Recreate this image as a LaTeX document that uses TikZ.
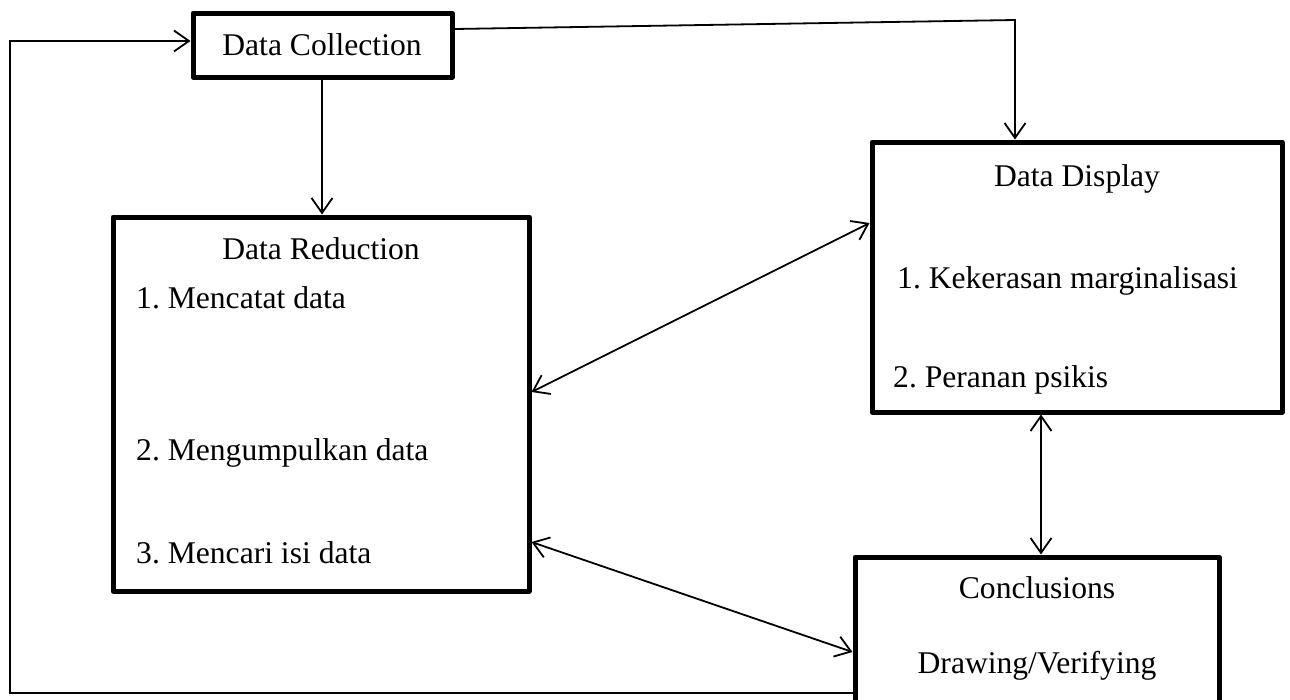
\documentclass[tikz,border=0pt]{standalone}
\usepackage{fontspec}
\setmainfont{Liberation Serif}
\usetikzlibrary{arrows.meta}
\tikzset{
  box/.style={draw=black, line width=5pt, line join=round, rectangle, inner sep=0pt},
  lbl/.style={inner sep=0pt, font=\fontsize{31.6}{38}\selectfont\frenchspacing},
  conn/.style={draw=black, line width=1.8pt},
  arr/.style={conn, -{Straight Barb[length=15pt,width=21pt,line width=1.8pt]}},
  dbl/.style={conn, {Straight Barb[length=15pt,width=21pt,line width=1.8pt]}-{Straight Barb[length=15pt,width=21pt,line width=1.8pt]}}
}
\begin{document}
\begin{tikzpicture}[x=1pt,y=-1pt]
\useasboundingbox (0,0) rectangle (1290,699);
\clip (0,0) rectangle (1290,699);
\fill[white] (0,0) rectangle (1290,699);
% boxes
\node[box, minimum width=259pt, minimum height=64pt] (dc) at (322.5,45) {};
\node[box, minimum width=416pt, minimum height=374pt] (dr) at (321,404) {};
\node[box, minimum width=410pt, minimum height=270pt] (dd) at (1077,277) {};
\node[box, minimum width=364pt, minimum height=183pt] (cc) at (1037,648.5) {};
% texts
\node[lbl, anchor=base] (tdc) at (322,55) {Data Collection};
\node[lbl, anchor=base] (tdr) at (321,259) {Data Reduction};
\node[lbl, anchor=base west] (tdr1) at (136,308) {1. Mencatat data};
\node[lbl, anchor=base west] (tdr2) at (136,460) {2. Mengumpulkan data};
\node[lbl, anchor=base west] (tdr3) at (136,563) {3. Mencari isi data};
\node[lbl, anchor=base] (tdd) at (1077,186) {Data Display};
\node[lbl, anchor=base west] (tdd1) at (897,288) {1. Kekerasan marginalisasi};
\node[lbl, anchor=base west] (tdd2) at (893,387) {2. Peranan psikis};
\node[lbl, anchor=base] (tcc1) at (1037,598) {Conclusions};
\node[lbl, anchor=base] (tcc2) at (1037,673) {Drawing/Verifying};
% connectors
\coordinate (bendTR) at (1015,20);
\coordinate (bendBL) at (10,693);
\coordinate (bendTL) at (10,41);
\draw[arr] (dc.south -| 322,0) -- (dr.north -| 322,0);
\draw[arr] (dc.east |- 0,29) -- (bendTR) -- (bendTR |- dd.north);
\draw[dbl] (dr.east |- 0,392) -- (dd.west |- 0,223);
\draw[dbl] (dd.south -| 1041,0) -- (cc.north -| 1041,0);
\draw[dbl] (dr.east |- 0,542) -- (cc.west |- 0,652);
\draw[arr] (cc.west |- bendBL) -- (bendBL) -- (bendTL) -- (dc.west |- bendTL);
\end{tikzpicture}
\end{document}
